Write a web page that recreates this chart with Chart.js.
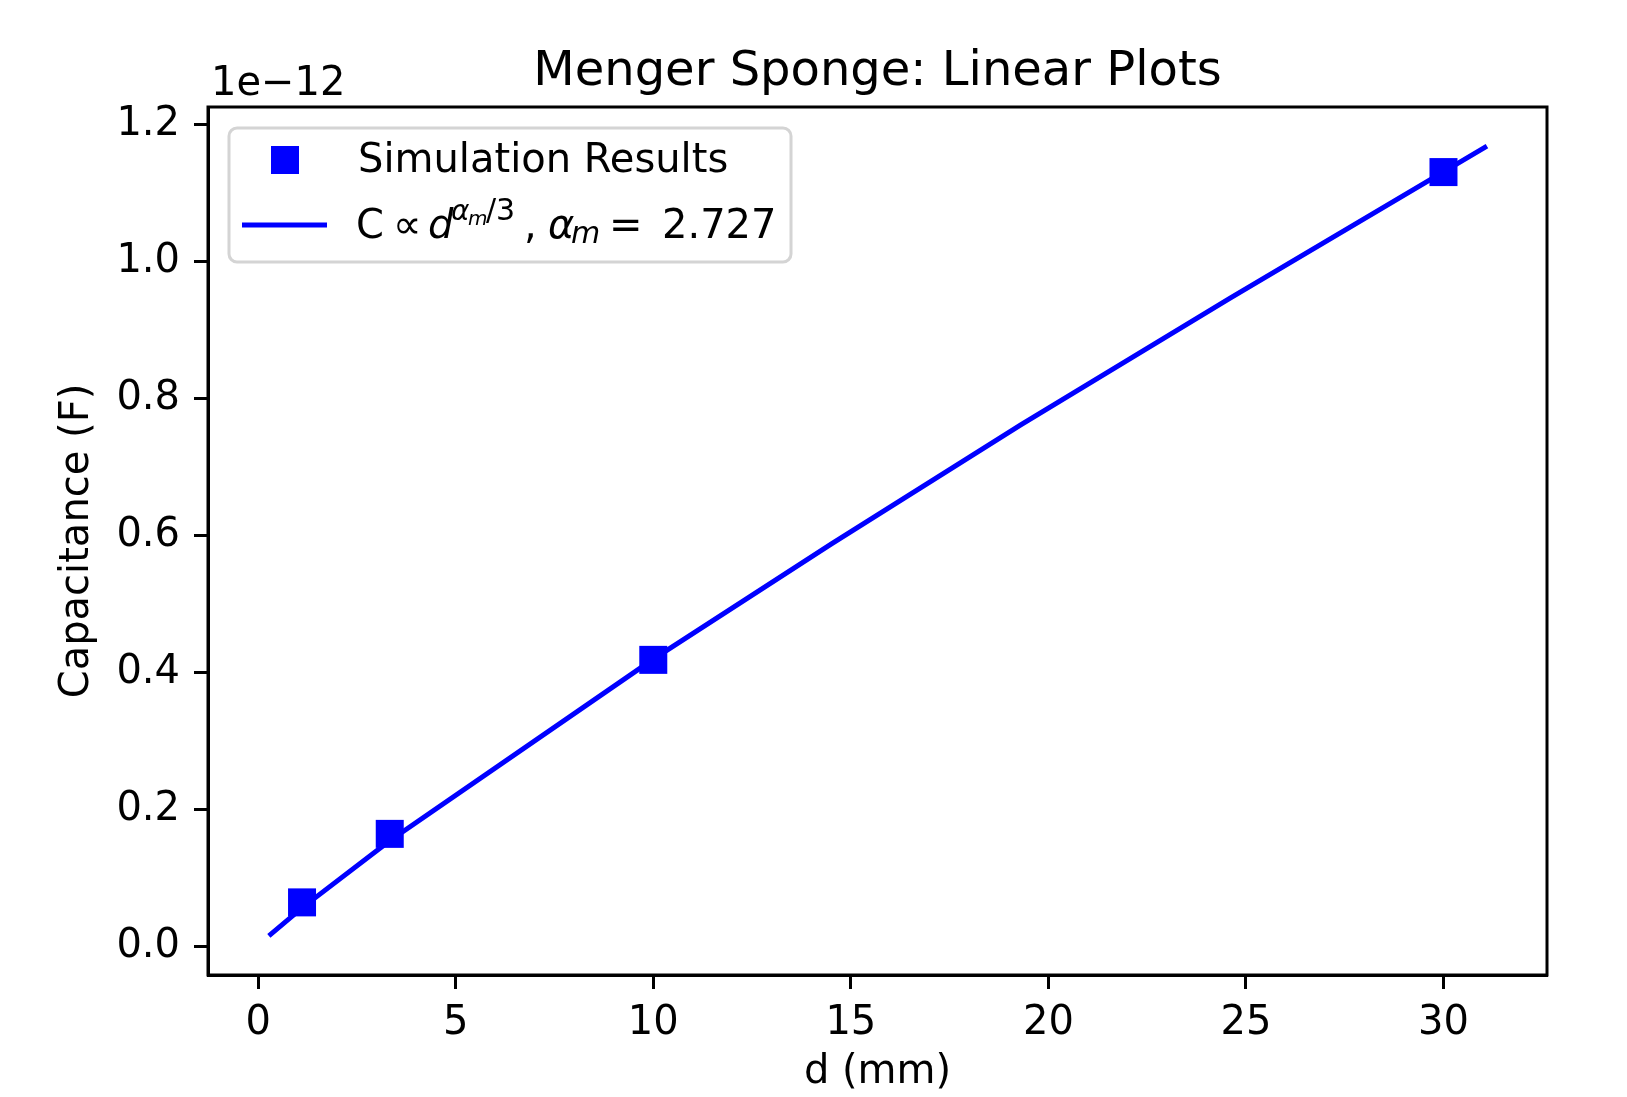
<!DOCTYPE html>
<html>
<head>
<meta charset="utf-8">
<title>Menger Sponge: Linear Plots</title>
<script src="https://cdn.jsdelivr.net/npm/chart.js@4.4.1/dist/chart.umd.min.js"></script>
<style>
  html, body { margin: 0; padding: 0; background: #fff; }
  #wrap { width: 1627px; height: 1097px; }
</style>
</head>
<body>
<div id="wrap"><canvas id="chart" width="1627" height="1097"></canvas></div>
<script>
// Simulation results (capacitance in units of 1e-12 F)
const dMeasured = [1.11, 3.33, 10.0, 30.0];
const capMeasured = [0.065, 0.165, 0.419, 1.131];

// Fitted power-law curve
const dFit = [0.27, 1.11, 3.33, 10.0, 14.5, 19.3, 24.6, 31.1];
const capFit = [0.016, 0.057, 0.155, 0.42, 0.588, 0.762, 0.947, 1.169];

// Tick labels
const xTicks = [0, 5, 10, 15, 20, 25, 30];
const yTicks = [0.0, 0.2, 0.4, 0.6, 0.8, 1.0, 1.2];

const TITLE = 'Menger Sponge: Linear Plots';
const FONT = '"DejaVu Sans", "Liberation Sans", sans-serif';
const BLUE = '#0000ff';

function toPoints(xs, ys) {
    return xs.map((x, i) => ({ x: x, y: ys[i] }));
}

// title, frame, offset text and the legend with its math label
const decorations = {
    id: 'decorations',
    afterDraw(chart) {
        const ctx = chart.ctx;
        const a = chart.chartArea;
        ctx.save();

        // spines
        ctx.strokeStyle = '#000';
        ctx.lineWidth = 3;
        ctx.strokeRect(a.left, a.top, a.right - a.left, a.bottom - a.top);

        // title centred over the axes
        ctx.fillStyle = '#000';
        ctx.textBaseline = 'alphabetic';
        ctx.textAlign = 'center';
        ctx.font = '48px ' + FONT;
        ctx.fillText(TITLE, (a.left + a.right) / 2, 85);

        // offset text
        ctx.textAlign = 'left';
        ctx.font = '40px ' + FONT;
        ctx.fillText('1e\u221212', 211, 95);

        // legend frame
        const lx = 229, ly = 128, lw = 562, lh = 134, r = 8;
        ctx.beginPath();
        ctx.moveTo(lx + r, ly);
        ctx.arcTo(lx + lw, ly, lx + lw, ly + lh, r);
        ctx.arcTo(lx + lw, ly + lh, lx, ly + lh, r);
        ctx.arcTo(lx, ly + lh, lx, ly, r);
        ctx.arcTo(lx, ly, lx + lw, ly, r);
        ctx.closePath();
        ctx.fillStyle = 'rgba(255,255,255,0.8)';
        ctx.fill();
        ctx.strokeStyle = '#d4d4d4';
        ctx.lineWidth = 3;
        ctx.stroke();

        // entry 1: square marker
        ctx.fillStyle = BLUE;
        ctx.fillRect(285 - 14, 160 - 14, 28, 28);
        ctx.fillStyle = '#000';
        ctx.font = '40px ' + FONT;
        ctx.fillText(chart.data.datasets[0].label, 358, 172);

        // entry 2: line sample
        ctx.strokeStyle = BLUE;
        ctx.lineWidth = 5;
        ctx.beginPath();
        ctx.moveTo(242, 225);
        ctx.lineTo(327, 225);
        ctx.stroke();

        // mathtext label, piece by piece: text, font, x, baseline shift
        const base = 238;
        const pieces = [
            ['C', '40px ' + FONT, 356, 0],
            ['\u221d', '40px ' + FONT, 393, 0],
            ['d', 'italic 40px ' + FONT, 428, 0],
            ['\u03b1', 'italic 28px ' + FONT, 451, -18],
            ['m', 'italic 20px ' + FONT, 468, -13],
            ['/3', '30px ' + FONT, 486, -18],
            [',', '40px ' + FONT, 524, 0],
            ['\u03b1', 'italic 40px ' + FONT, 548, 0],
            ['m', 'italic 30px ' + FONT, 571, 5],
            ['=', '40px ' + FONT, 609, 0],
            ['2.727', '40px ' + FONT, 662, 0]
        ];
        ctx.fillStyle = '#000';
        pieces.forEach(p => {
            ctx.font = p[1];
            ctx.fillText(p[0], p[2], base + p[3]);
        });

        ctx.restore();
    }
};

const ctx = document.getElementById('chart').getContext('2d');
const chart = new Chart(ctx, {
    type: 'scatter',
    data: {
        datasets: [{
            label: 'Simulation Results',
            data: toPoints(dMeasured, capMeasured),
            pointStyle: 'rect',
            pointRadius: 19.8,
            pointBorderWidth: 0,
            backgroundColor: BLUE,
            borderColor: BLUE,
            showLine: false,
            order: 0
        }, {
            label: 'C \u221d d^(\u03b1m/3), \u03b1m = 2.727',
            data: toPoints(dFit, capFit),
            showLine: true,
            borderColor: BLUE,
            borderWidth: 5,
            pointRadius: 0,
            fill: false,
            tension: 0,
            order: 1
        }]
    },
    options: {
        responsive: false,
        animation: false,
        devicePixelRatio: 1,
        layout: { padding: { left: 0, right: 80, top: 107, bottom: 0 } },
        plugins: {
            legend: { display: false },
            tooltip: { enabled: false },
            title: { display: false }
        },
        scales: {
            x: {
                type: 'linear',
                min: -1.27,
                max: 32.62,
                afterFit: s => { s.height = 122; },
                afterBuildTicks: s => { s.ticks = xTicks.map(v => ({ value: v })); },
                grid: { drawOnChartArea: false, drawTicks: true, tickLength: 14, tickColor: '#000', tickWidth: 3 },
                border: { display: true, color: '#000', width: 3 },
                ticks: {
                    color: '#000',
                    font: { family: FONT, size: 40 },
                    padding: 11,
                    maxRotation: 0,
                    callback: v => String(v)
                },
                title: {
                    display: true,
                    text: 'd (mm)',
                    color: '#000',
                    font: { family: FONT, size: 40 },
                    padding: { top: 0, bottom: 0 }
                }
            },
            y: {
                type: 'linear',
                min: -0.041,
                max: 1.226,
                afterFit: s => { s.width = 208; },
                afterBuildTicks: s => { s.ticks = yTicks.map(v => ({ value: v })); },
                grid: { drawOnChartArea: false, drawTicks: true, tickLength: 14, tickColor: '#000', tickWidth: 3 },
                border: { display: true, color: '#000', width: 3 },
                ticks: {
                    color: '#000',
                    font: { family: FONT, size: 40 },
                    padding: 14,
                    callback: v => v.toFixed(1)
                },
                title: {
                    display: true,
                    text: 'Capacitance (F)',
                    color: '#000',
                    font: { family: FONT, size: 40 },
                    padding: { top: 54, bottom: 0 }
                }
            }
        }
    },
    plugins: [decorations]
});
</script>
</body>
</html>
